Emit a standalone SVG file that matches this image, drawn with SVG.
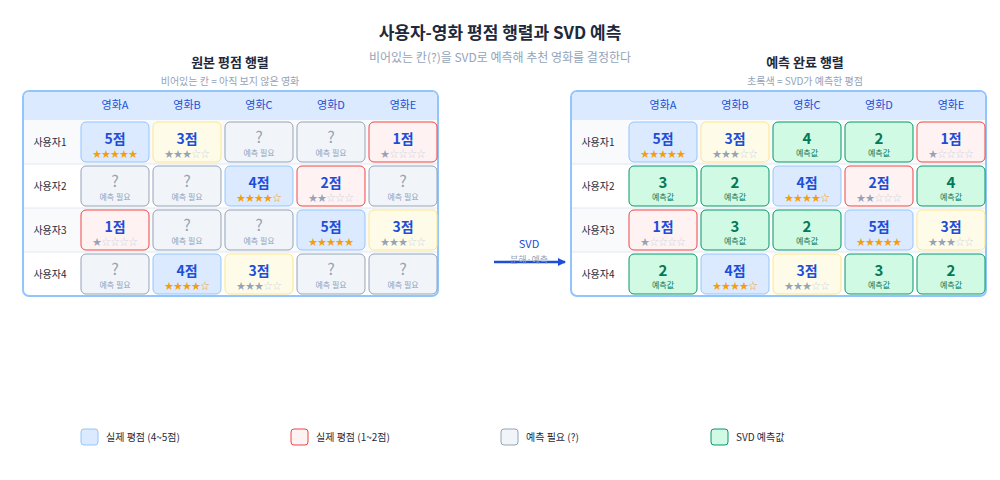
<svg xmlns="http://www.w3.org/2000/svg" width="1000" height="480" viewBox="0 0 1000 480">
<style>
text{font-family:"Noto Sans CJK KR","Noto Sans",sans-serif;text-anchor:middle}
.t{font-size:17px;font-weight:bold;fill:#1e293b}
.s{font-size:12px;fill:#94a3b8}
.h{font-size:13px;font-weight:bold;fill:#1e293b}
.hs{font-size:10px;fill:#94a3b8}
.col{font-size:11px;fill:#1d4ed8}
.row{font-size:10px;fill:#1e293b}
.n{font-size:14px;font-weight:bold;fill:#1d4ed8}
.q{font-size:16px;fill:#94a3b8}
.qs{font-size:8px;fill:#94a3b8}
.p{font-size:15px;font-weight:bold;fill:#047857}
.ps{font-size:8px;fill:#047857}
.st{font-size:9px}
.g{fill:#f59e0b}.d{fill:#94a3b8}.e{fill:#cbd5e1}
.hi{fill:#dbeafe;stroke:#93c5fd}.mid{fill:#fefce8;stroke:#fde68a}.lo{fill:#fef2f2;stroke:#ef4444}
.un{fill:#f1f5f9;stroke:#94a3b8}.pr{fill:#d1fae5;stroke:#059669}
.lg{font-size:10px;fill:#1e293b;text-anchor:start}
</style>
<defs>
<marker id="ah" markerWidth="8" markerHeight="8" refX="7" refY="4" orient="auto" markerUnits="userSpaceOnUse"><path d="M0,0L8,4L0,8z" fill="#1d4ed8"/></marker>
<g id="sk"><path d="M0,0"/></g>
</defs>
<text class="t" x="500" y="39">사용자-영화 평점 행렬과 SVD 예측</text>
<text class="s" x="500" y="62">비어있는 칸(?)을 SVD로 예측해 추천 영화를 결정한다</text>

<g id="left-matrix">
<text class="h" x="230" y="67">원본 평점 행렬</text>
<text class="hs" x="230" y="85">비어있는 칸 = 아직 보지 않은 영화</text>
<rect x="23" y="91" width="415" height="205" rx="6" fill="#fff" stroke="#93c5fd" stroke-width="2"/>
<path d="M24,120V97a5,5 0 0 1 5,-5H432a5,5 0 0 1 5,5V120z" fill="#dbeafe"/>
<rect x="24" y="120" width="413" height="44" fill="#f8fafc"/><rect x="24" y="208" width="413" height="44" fill="#f8fafc"/>
<path d="M24,164H437M24,208H437M24,252H437" stroke="#e2e8f0"/>
<text class="col" x="115" y="109">영화A</text><text class="col" x="187" y="109">영화B</text><text class="col" x="259" y="109">영화C</text><text class="col" x="331" y="109">영화D</text><text class="col" x="403" y="109">영화E</text>
<text class="row" x="50" y="146">사용자1</text><text class="row" x="50" y="190">사용자2</text><text class="row" x="50" y="234">사용자3</text><text class="row" x="50" y="278">사용자4</text>
<g stroke-width="1">
<rect class="hi" x="81" y="122" width="68" height="40" rx="5"/><rect class="mid" x="153" y="122" width="68" height="40" rx="5"/><rect class="un" x="225" y="122" width="68" height="40" rx="5"/><rect class="un" x="297" y="122" width="68" height="40" rx="5"/><rect class="lo" x="369" y="122" width="68" height="40" rx="5"/>
<rect class="un" x="81" y="166" width="68" height="40" rx="5"/><rect class="un" x="153" y="166" width="68" height="40" rx="5"/><rect class="hi" x="225" y="166" width="68" height="40" rx="5"/><rect class="lo" x="297" y="166" width="68" height="40" rx="5"/><rect class="un" x="369" y="166" width="68" height="40" rx="5"/>
<rect class="lo" x="81" y="210" width="68" height="40" rx="5"/><rect class="un" x="153" y="210" width="68" height="40" rx="5"/><rect class="un" x="225" y="210" width="68" height="40" rx="5"/><rect class="hi" x="297" y="210" width="68" height="40" rx="5"/><rect class="mid" x="369" y="210" width="68" height="40" rx="5"/>
<rect class="un" x="81" y="254" width="68" height="40" rx="5"/><rect class="hi" x="153" y="254" width="68" height="40" rx="5"/><rect class="mid" x="225" y="254" width="68" height="40" rx="5"/><rect class="un" x="297" y="254" width="68" height="40" rx="5"/><rect class="un" x="369" y="254" width="68" height="40" rx="5"/>
</g>
<text class="n" x="115" y="144">5점</text><text class="st" x="115" y="157"><tspan class="g">★★★★★</tspan></text>
<text class="n" x="187" y="144">3점</text><text class="st" x="187" y="157"><tspan class="d">★★★</tspan><tspan class="e">☆☆</tspan></text>
<text class="q" x="259" y="143">?</text><text class="qs" x="259" y="156">예측 필요</text>
<text class="q" x="331" y="143">?</text><text class="qs" x="331" y="156">예측 필요</text>
<text class="n" x="403" y="144">1점</text><text class="st" x="403" y="157"><tspan class="d">★</tspan><tspan class="e">☆☆☆☆</tspan></text>
<text class="q" x="115" y="187">?</text><text class="qs" x="115" y="200">예측 필요</text>
<text class="q" x="187" y="187">?</text><text class="qs" x="187" y="200">예측 필요</text>
<text class="n" x="259" y="188">4점</text><text class="st" x="259" y="201"><tspan class="g">★★★★</tspan><tspan class="g">☆</tspan></text>
<text class="n" x="331" y="188">2점</text><text class="st" x="331" y="201"><tspan class="d">★★</tspan><tspan class="e">☆☆☆</tspan></text>
<text class="q" x="403" y="187">?</text><text class="qs" x="403" y="200">예측 필요</text>
<text class="n" x="115" y="232">1점</text><text class="st" x="115" y="245"><tspan class="d">★</tspan><tspan class="e">☆☆☆☆</tspan></text>
<text class="q" x="187" y="231">?</text><text class="qs" x="187" y="244">예측 필요</text>
<text class="q" x="259" y="231">?</text><text class="qs" x="259" y="244">예측 필요</text>
<text class="n" x="331" y="232">5점</text><text class="st" x="331" y="245"><tspan class="g">★★★★★</tspan></text>
<text class="n" x="403" y="232">3점</text><text class="st" x="403" y="245"><tspan class="d">★★★</tspan><tspan class="e">☆☆</tspan></text>
<text class="q" x="115" y="275">?</text><text class="qs" x="115" y="288">예측 필요</text>
<text class="n" x="187" y="276">4점</text><text class="st" x="187" y="289"><tspan class="g">★★★★</tspan><tspan class="g">☆</tspan></text>
<text class="n" x="259" y="276">3점</text><text class="st" x="259" y="289"><tspan class="d">★★★</tspan><tspan class="e">☆☆</tspan></text>
<text class="q" x="331" y="275">?</text><text class="qs" x="331" y="288">예측 필요</text>
<text class="q" x="403" y="275">?</text><text class="qs" x="403" y="288">예측 필요</text>
</g>

<g id="connectors">
<text x="529" y="248" font-size="11" fill="#1d4ed8">SVD</text>
<line x1="494" y1="262" x2="565" y2="262" stroke="#1d4ed8" stroke-width="2.5" marker-end="url(#ah)"/>
<text x="529" y="263" font-size="9" fill="#94a3b8">분해·예측</text>
</g>

<g id="right-matrix">
<text class="h" x="805" y="67">예측 완료 행렬</text>
<text class="hs" x="805" y="85">초록색 = SVD가 예측한 평점</text>
<rect x="571" y="91" width="415" height="205" rx="6" fill="#fff" stroke="#93c5fd" stroke-width="2"/>
<path d="M572,120V97a5,5 0 0 1 5,-5H980a5,5 0 0 1 5,5V120z" fill="#dbeafe"/>
<rect x="572" y="120" width="413" height="44" fill="#f8fafc"/><rect x="572" y="208" width="413" height="44" fill="#f8fafc"/>
<path d="M572,164H985M572,208H985M572,252H985" stroke="#e2e8f0"/>
<text class="col" x="663" y="109">영화A</text><text class="col" x="735" y="109">영화B</text><text class="col" x="807" y="109">영화C</text><text class="col" x="879" y="109">영화D</text><text class="col" x="951" y="109">영화E</text>
<text class="row" x="598" y="146">사용자1</text><text class="row" x="598" y="190">사용자2</text><text class="row" x="598" y="234">사용자3</text><text class="row" x="598" y="278">사용자4</text>
<rect class="hi" x="629" y="122" width="68" height="40" rx="5"/><rect class="mid" x="701" y="122" width="68" height="40" rx="5"/><rect class="pr" x="773" y="122" width="68" height="40" rx="5"/><rect class="pr" x="845" y="122" width="68" height="40" rx="5"/><rect class="lo" x="917" y="122" width="68" height="40" rx="5"/>
<rect class="pr" x="629" y="166" width="68" height="40" rx="5"/><rect class="pr" x="701" y="166" width="68" height="40" rx="5"/><rect class="hi" x="773" y="166" width="68" height="40" rx="5"/><rect class="lo" x="845" y="166" width="68" height="40" rx="5"/><rect class="pr" x="917" y="166" width="68" height="40" rx="5"/>
<rect class="lo" x="629" y="210" width="68" height="40" rx="5"/><rect class="pr" x="701" y="210" width="68" height="40" rx="5"/><rect class="pr" x="773" y="210" width="68" height="40" rx="5"/><rect class="hi" x="845" y="210" width="68" height="40" rx="5"/><rect class="mid" x="917" y="210" width="68" height="40" rx="5"/>
<rect class="pr" x="629" y="254" width="68" height="40" rx="5"/><rect class="hi" x="701" y="254" width="68" height="40" rx="5"/><rect class="mid" x="773" y="254" width="68" height="40" rx="5"/><rect class="pr" x="845" y="254" width="68" height="40" rx="5"/><rect class="pr" x="917" y="254" width="68" height="40" rx="5"/>
<text class="n" x="663" y="144">5점</text><text class="st" x="663" y="157"><tspan class="g">★★★★★</tspan></text>
<text class="n" x="735" y="144">3점</text><text class="st" x="735" y="157"><tspan class="d">★★★</tspan><tspan class="e">☆☆</tspan></text>
<text class="p" x="807" y="144">4</text><text class="ps" x="807" y="156">예측값</text>
<text class="p" x="879" y="144">2</text><text class="ps" x="879" y="156">예측값</text>
<text class="n" x="951" y="144">1점</text><text class="st" x="951" y="157"><tspan class="d">★</tspan><tspan class="e">☆☆☆☆</tspan></text>
<text class="p" x="663" y="188">3</text><text class="ps" x="663" y="200">예측값</text>
<text class="p" x="735" y="188">2</text><text class="ps" x="735" y="200">예측값</text>
<text class="n" x="807" y="188">4점</text><text class="st" x="807" y="201"><tspan class="g">★★★★☆</tspan></text>
<text class="n" x="879" y="188">2점</text><text class="st" x="879" y="201"><tspan class="d">★★</tspan><tspan class="e">☆☆☆</tspan></text>
<text class="p" x="951" y="188">4</text><text class="ps" x="951" y="200">예측값</text>
<text class="n" x="663" y="232">1점</text><text class="st" x="663" y="245"><tspan class="d">★</tspan><tspan class="e">☆☆☆☆</tspan></text>
<text class="p" x="735" y="232">3</text><text class="ps" x="735" y="244">예측값</text>
<text class="p" x="807" y="232">2</text><text class="ps" x="807" y="244">예측값</text>
<text class="n" x="879" y="232">5점</text><text class="st" x="879" y="245"><tspan class="g">★★★★★</tspan></text>
<text class="n" x="951" y="232">3점</text><text class="st" x="951" y="245"><tspan class="d">★★★</tspan><tspan class="e">☆☆</tspan></text>
<text class="p" x="663" y="276">2</text><text class="ps" x="663" y="288">예측값</text>
<text class="n" x="735" y="276">4점</text><text class="st" x="735" y="289"><tspan class="g">★★★★☆</tspan></text>
<text class="n" x="807" y="276">3점</text><text class="st" x="807" y="289"><tspan class="d">★★★</tspan><tspan class="e">☆☆</tspan></text>
<text class="p" x="879" y="276">3</text><text class="ps" x="879" y="288">예측값</text>
<text class="p" x="951" y="276">2</text><text class="ps" x="951" y="288">예측값</text>
</g>

<g id="legend">
<rect class="hi" x="81" y="429" width="17" height="16" rx="3"/><text class="lg" x="106" y="441">실제 평점 (4~5점)</text>
<rect class="lo" x="291" y="429" width="17" height="16" rx="3"/><text class="lg" x="316" y="441">실제 평점 (1~2점)</text>
<rect class="un" x="501" y="429" width="17" height="16" rx="3"/><text class="lg" x="526" y="441">예측 필요 (?)</text>
<rect class="pr" x="711" y="429" width="17" height="16" rx="3"/><text class="lg" x="736" y="441">SVD 예측값</text>
</g>
</svg>
